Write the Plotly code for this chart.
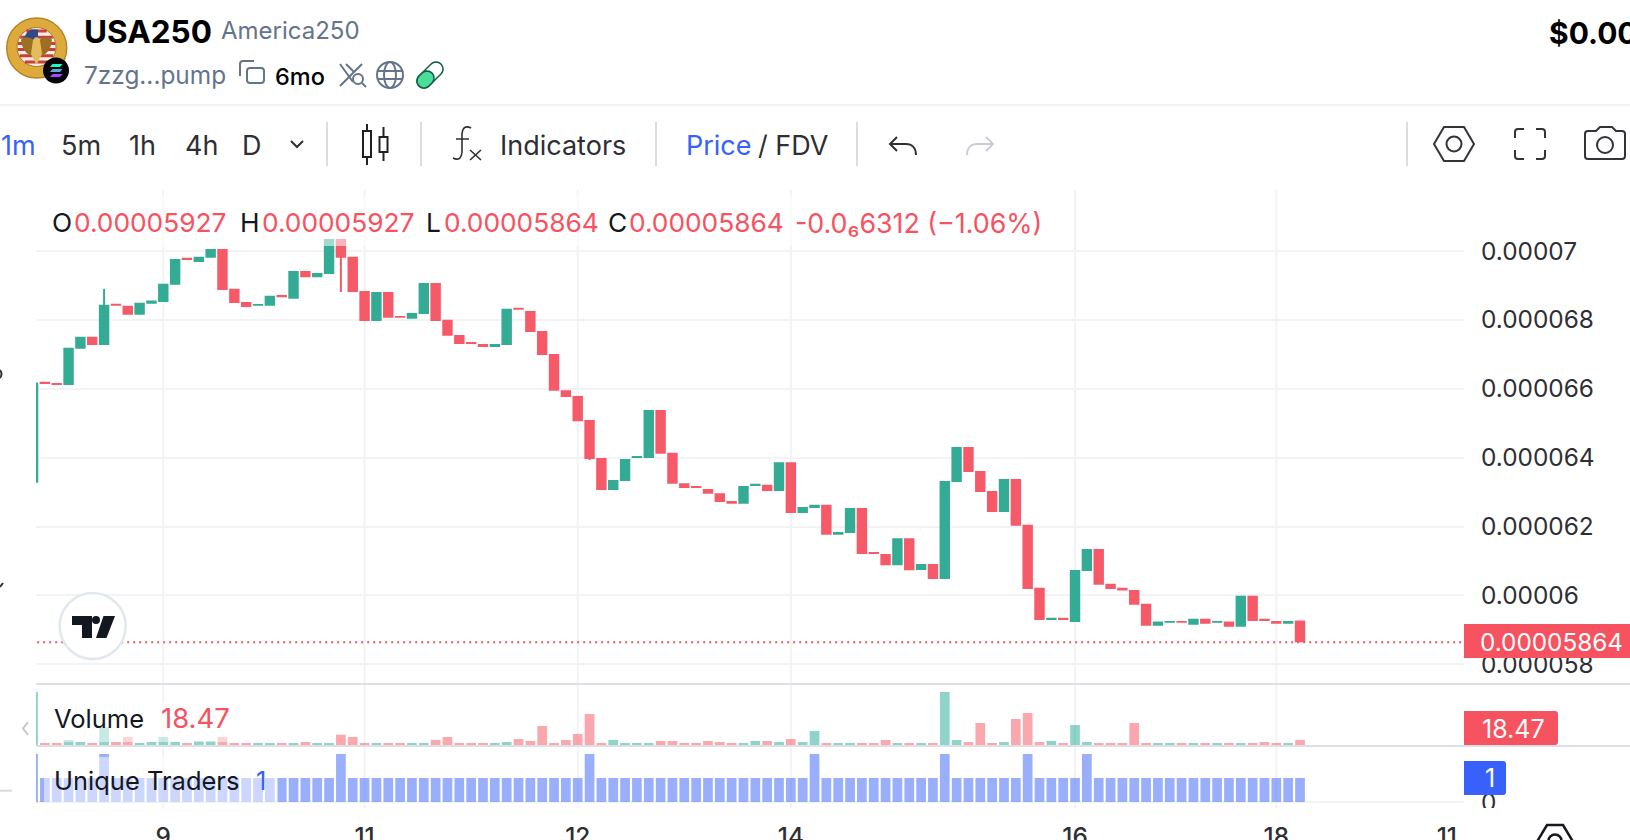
import math
import plotly.graph_objects as go

W, H = 1630, 840
FONT = "Inter"
UP, DOWN = "#33AB95", "#F65968"
VOL_UP, VOL_DOWN = "#22AB94", "#F7525F"
BLUE = "#3861FB"
SLATE = "#64748B"
DARK = "#2E2F34"
INK = "#131722"
GRID = "#F3F3F5"
DIVIDER = "#DFDFE6"

# price in millionths
opens = [63.27,66.20,66.17,66.11,67.16,67.51,67.27,68.47,68.41,68.15,68.47,68.52,69.02,69.80,69.68,69.80,70.06,68.90,68.52,68.41,
         68.41,68.72,68.61,69.42,69.24,69.33,70.35,69.83,68.84,67.97,68.81,68.11,68.03,68.17,69.07,68.00,67.56,67.36,67.30,67.21,
         67.27,68.35,68.26,67.68,67.01,65.96,65.79,65.09,63.99,63.06,63.32,63.99,63.99,65.38,64.14,63.26,63.18,63.09,62.97,62.74,
         62.66,63.18,63.21,63.03,63.87,62.39,62.54,62.63,61.76,61.81,62.54,61.26,61.20,60.88,61.66,60.74,60.91,60.48,63.29,64.31,
         63.61,63.03,62.42,63.38,62.05,60.22,59.29,59.35,59.23,60.71,61.35,60.34,60.22,60.16,59.76,59.12,59.21,59.26,59.15,59.32,
         59.21,59.24,59.09,59.99,59.32,59.26,59.18,59.27]
closes = [66.18,66.14,66.11,67.19,67.51,67.27,68.44,68.41,68.15,68.50,68.56,69.05,69.77,69.74,69.83,70.06,68.87,68.49,68.37,68.46,
          68.70,68.66,69.42,69.24,69.36,70.35,69.80,68.81,67.97,68.81,68.06,68.06,68.20,69.07,67.97,67.54,67.30,67.30,67.21,67.30,
          68.32,68.29,67.65,66.98,65.94,65.76,65.06,63.96,63.06,63.35,63.96,64.05,65.38,64.11,63.24,63.12,63.12,62.95,62.71,62.66,
          63.18,63.24,63.03,63.87,62.39,62.57,62.63,61.76,61.84,62.54,61.20,61.20,60.88,61.66,60.73,60.91,60.48,63.32,64.31,63.58,
          63.00,62.42,63.38,62.02,60.19,59.29,59.35,59.29,60.74,61.35,60.31,60.19,60.14,59.73,59.12,59.24,59.26,59.21,59.32,59.18,
          59.26,59.09,59.99,59.26,59.26,59.18,59.26,58.64]
wick_highs = {6: 68.90}
wick_lows = {26: 68.81, 47: 63.93}
volumes = [195.8,7.4,7.4,18.47,11.1,7.4,65.3,11.1,29.6,7.4,11.1,29.6,11.1,7.4,14.8,14.8,29.6,7.4,7.4,7.4,
           7.4,7.4,7.4,11.1,7.4,7.4,38.2,29.6,7.4,7.4,7.4,7.4,7.4,7.4,18.47,29.6,7.4,7.4,7.4,7.4,
           11.1,22.2,14.8,70.2,7.4,18.47,40.6,114.5,7.4,18.47,7.4,7.4,7.4,14.8,14.8,7.4,7.4,14.8,11.1,7.4,
           7.4,14.8,14.8,11.1,22.2,11.1,51.7,7.4,7.4,7.4,7.4,7.4,18.47,7.4,7.4,7.4,7.4,195.8,18.47,11.1,
           81.3,7.4,11.1,96.0,118.2,11.1,14.8,7.4,73.9,11.1,7.4,7.4,7.4,81.3,7.4,7.4,7.4,7.4,7.4,7.4,
           7.4,7.4,7.4,7.4,11.1,7.4,7.4,18.47]
trader_peaks = [0, 6, 26, 47, 66, 77, 84, 89]
grid_ticks = [11, 28, 46, 64, 88, 105]
date_ticks = [11, 28, 46, 64, 88, 105, 119.4]
date_labels = ["9", "11", "12", "14", "16", "18", "11"]
price_ticks = [58, 60, 62, 64, 66, 68, 70]
price_labels = ["0.000058", "0.00006", "0.000062", "0.000064", "0.000066", "0.000068", "0.00007"]
last_price = 58.64

n = len(opens)
idx = list(range(n))
U = 1e-6
highs = [wick_highs.get(i, max(opens[i], closes[i])) * U for i in idx]
lows = [wick_lows.get(i, min(opens[i], closes[i])) * U for i in idx]
traders = [2 if i in trader_peaks else 1 for i in idx]
is_up = [closes[i] >= opens[i] for i in idx]


def px(x): return x / W
def py(y): return 1 - y / H


shapes, annos = [], []


def rect(x0, y0, x1, y1, fill, layer="above", line=None, opacity=None, lw=0):
    s = dict(type="rect", xref="paper", yref="paper", x0=px(x0), y0=py(y0), x1=px(x1), y1=py(y1),
             fillcolor=fill, layer=layer, line=dict(width=lw, color=line or "rgba(0,0,0,0)"))
    if opacity is not None:
        s["opacity"] = opacity
    shapes.append(s)


def seg(x0, y0, x1, y1, color, w=2, dash=None, layer="above"):
    shapes.append(dict(type="line", xref="paper", yref="paper", x0=px(x0), y0=py(y0), x1=px(x1), y1=py(y1),
                       layer=layer, line=dict(color=color, width=w, dash=dash or "solid")))


def circle(cx, cy, r, fill="rgba(0,0,0,0)", line=None, lw=2):
    shapes.append(dict(type="circle", xref="paper", yref="paper", x0=px(cx - r), x1=px(cx + r), y0=py(cy - r), y1=py(cy + r),
                       fillcolor=fill, layer="above", line=dict(color=line or "rgba(0,0,0,0)", width=lw if line else 0)))


def ellipse(cx, cy, rx, ry, fill="rgba(0,0,0,0)", line=None, lw=2):
    shapes.append(dict(type="circle", xref="paper", yref="paper", x0=px(cx - rx), x1=px(cx + rx), y0=py(cy - ry), y1=py(cy + ry),
                       fillcolor=fill, layer="above", line=dict(color=line or "rgba(0,0,0,0)", width=lw if line else 0)))


def path(tokens, line=None, lw=2, fill="rgba(0,0,0,0)"):
    """tokens: list like ['M',x,y,'L',x,y,'C',x,y,x,y,x,y,'Z'] in pixels"""
    out, is_x = [], True
    for t in tokens:
        if isinstance(t, str):
            out.append(t)
            is_x = True
        else:
            out.append(f"{px(t):.5f}" if is_x else f"{py(t):.5f}")
            is_x = not is_x
    shapes.append(dict(type="path", xref="paper", yref="paper", path=" ".join(out), fillcolor=fill, layer="above",
                       line=dict(color=line or "rgba(0,0,0,0)", width=lw if line else 0)))


def text(x, y, s, size=27, color=DARK, weight=400, anchor="left", family=FONT):
    annos.append(dict(xref="paper", yref="paper", x=px(x), y=py(y), text=s, showarrow=False, xanchor=anchor, yanchor="middle",
                      borderpad=0, borderwidth=0, font=dict(family=family, size=size, color=color, weight=weight)))


# ---- grid verticals ----
for t in grid_ticks:
    shapes.append(dict(type="line", xref="x", yref="paper", x0=t, x1=t, y0=py(808), y1=py(190), layer="below",
                       line=dict(color=GRID, width=2)))

# ---- header & toolbar chrome ----
seg(0, 105, W, 105, "#F0F0F5", 2)
for x in (327, 421, 656, 857, 1407):
    seg(x, 122, x, 166, "#DCDCE0", 2)

# token logo
circle(36.7, 48, 30, "#DDAA3C", "#B98429", 1.5)
circle(36.5, 47, 19.5, "#F4EEE6", "#A8782A", 1)
cx, cy, r0 = 36.5, 47, 19
for k in range(6):
    y0 = 29.5 + k * 6.2
    dy = abs(y0 + 1.5 - cy)
    hw = math.sqrt(max(r0 * r0 - dy * dy, 0))
    rect(cx - hw, y0, cx + hw, y0 + 3, "#C8403A")
path(["M", 23, 41, "Q", 25, 33, 31, 29.5, "L", 38, 29.5, "L", 38, 41, "Z"], fill="#2F4A86")
# eagle
path(["M", 36.5, 42, "C", 30, 36, 24, 36, 21, 40, "C", 22, 50, 27, 55, 33, 56, "Z"], fill="#9C6F22")
path(["M", 36.5, 42, "C", 43, 36, 49, 36, 52, 40, "C", 51, 50, 46, 55, 40, 56, "Z"], fill="#9C6F22")
path(["M", 33, 40, "Q", 36.5, 34, 40, 40, "L", 42, 54, "L", 36.5, 65, "L", 31, 54, "Z"], fill="#E5BC5C")
# solana badge
circle(56, 70.5, 13, "#05060A")
for k, c in enumerate(("#19FBC0", "#5FA8E6", "#A24CFF")):
    path(["M", 52.5, 64 + k * 5, "L", 62.5, 64 + k * 5, "L", 60, 67 + k * 5, "L", 50, 67 + k * 5, "Z"], fill=c)

text(84, 32, "USA250", 31.5, "#000000", 700)
text(221, 31, "America250", 24, SLATE)
text(84, 75, "7zzg...pump", 24.4, SLATE)
text(275, 76, "6mo", 23.5, "#000000", 500)
text(1549, 33, "$0.00", 30, "#000000", 700)

# copy icon
path(["M", 254, 61, "L", 243, 61, "Q", 240, 61, 240, 64, "L", 240, 76], SLATE)
path(["M", 250, 68, "L", 261, 68, "Q", 264, 68, 264, 71, "L", 264, 80, "Q", 264, 83, 261, 83, "L", 250, 83,
      "Q", 247, 83, 247, 80, "L", 247, 71, "Q", 247, 68, 250, 68, "Z"], SLATE)
# x-search icon
path(["M", 340, 64, "L", 353, 82, "M", 346, 64, "L", 354, 72, "M", 362, 64, "L", 340, 86], SLATE)
circle(358, 79, 5, line=SLATE)
seg(362, 83, 366, 87, SLATE)
# globe icon
circle(390, 75, 13, line=SLATE)
ellipse(390, 75, 6, 13, line=SLATE)
seg(378, 71, 402, 71, SLATE)
seg(378, 79, 402, 79, SLATE)


# pill icon
def capsule(x1, y1, x2, y2, r, half=None):
    ang = math.atan2(y2 - y1, x2 - x1)
    pts = []
    for t in range(0, 13):
        a = ang + math.pi / 2 + math.pi * t / 12
        pts.append((x1 + r * math.cos(a), y1 + r * math.sin(a)))
    for t in range(0, 13):
        a = ang - math.pi / 2 + math.pi * t / 12
        pts.append((x2 + r * math.cos(a), y2 + r * math.sin(a)))
    return pts


pts = capsule(424, 81, 436, 69, 7)
toks = []
for i, (a, b) in enumerate(pts):
    toks += ["M" if i == 0 else "L", a, b]
path(toks + ["Z"], "#0F5F44", 1.5, "#FFFFFF")
pts = capsule(424, 81, 427, 78, 7)
toks = []
for i, (a, b) in enumerate(pts):
    toks += ["M" if i == 0 else "L", a, b]
path(toks + ["Z"], "#0F5F44", 1.5, "#4ADE9A")

text(1, 145, "1m", 27, BLUE)
text(61, 145, "5m", 27)
text(129, 145, "1h", 27)
text(185, 145, "4h", 27)
text(242, 145, "D", 27)
path(["M", 291, 141, "L", 297, 147, "L", 303, 141], DARK)
# candle icon
seg(367, 124, 367, 165, "#222222")
rect(363, 131, 371, 157, "#FFFFFF", line="#222222", lw=2)
seg(383.5, 127, 383.5, 161, "#222222")
rect(379.5, 137, 387.5, 152, "#FFFFFF", line="#222222", lw=2)
# fx icon
path(["M", 471, 128, "Q", 463, 124, 462, 134, "L", 462, 152, "Q", 461, 162, 453, 158, "M", 456, 139, "L", 469, 139], DARK, 1.6)
path(["M", 470, 150, "L", 481, 160, "M", 481, 150, "L", 470, 160], DARK, 1.6)
text(500, 145, "Indicators", 27)
text(686, 145, "Price", 27, BLUE)
text(758, 145, "/ FDV", 27)
# undo / redo
path(["M", 897, 137, "L", 890, 144, "L", 897, 151, "M", 890, 144, "L", 906, 144, "C", 912, 144, 916, 148, 916, 155], DARK)
path(["M", 986, 137, "L", 993, 144, "L", 986, 151, "M", 993, 144, "L", 977, 144, "C", 971, 144, 967, 148, 967, 155], "#C9CDD6")
# settings hexagon
path(["M", 1434, 144, "L", 1444, 127, "L", 1464, 127, "L", 1474, 144, "L", 1464, 161, "L", 1444, 161, "Z"], "#333339")
circle(1454, 144, 7.5, line="#333339")
# fullscreen
path(["M", 1515, 138, "L", 1515, 132, "Q", 1515, 129, 1518, 129, "L", 1524, 129], "#333339")
path(["M", 1536, 129, "L", 1542, 129, "Q", 1545, 129, 1545, 132, "L", 1545, 138], "#333339")
path(["M", 1515, 150, "L", 1515, 156, "Q", 1515, 159, 1518, 159, "L", 1524, 159], "#333339")
path(["M", 1536, 159, "L", 1542, 159, "Q", 1545, 159, 1545, 156, "L", 1545, 150], "#333339")
# camera
path(["M", 1588, 131, "L", 1596, 131, "L", 1600, 127, "L", 1612, 127, "L", 1616, 131, "L", 1622, 131, "Q", 1625, 131, 1625, 134,
      "L", 1625, 156, "Q", 1625, 159, 1622, 159, "L", 1588, 159, "Q", 1585, 159, 1585, 156, "L", 1585, 134, "Q", 1585, 131, 1588, 131, "Z"], "#333339")
circle(1605, 145, 8, line="#333339")

# ---- price line, overlays ----
shapes.append(dict(type="line", xref="x", yref="y", x0=0.35, x1=120.85, y0=last_price * U, y1=last_price * U, layer="above",
                   line=dict(color="#F7525F", width=2, dash="2px,4px")))
rect(44, 196, 1046, 246, "#FFFFFF", opacity=0.55)
rect(44, 702, 232, 742, "#FFFFFF", opacity=0.5)
rect(44, 757, 278, 802, "#FFFFFF", opacity=0.5)

seg(36, 684, W, 684, DIVIDER, 2)
seg(36, 746, W, 746, DIVIDER, 2)

# watermark
circle(92.7, 626, 33, "#FFFFFF", "#E2E6EF", 2.5)
path(["M", 72, 616, "L", 92, 616, "L", 92, 638, "L", 82, 638, "L", 82, 625, "L", 72, 625, "Z"], fill="#131722")
circle(96, 620, 4, "#131722")
path(["M", 103.5, 616, "L", 115, 616, "L", 106.5, 638, "L", 96, 638, "Z"], fill="#131722")

# value boxes
rect(1464, 624, W, 658, "#F7525F")
text(1480, 642, f"0.0000{int(last_price * 100)}", 24.3, "#FFFFFF")
path(["M", 1464, 711, "L", 1555, 711, "Q", 1558, 711, 1558, 714, "L", 1558, 742, "Q", 1558, 745, 1555, 745, "L", 1464, 745, "Z"], fill="#F7525F")
text(1482, 729, f"{volumes[-1]:.2f}", 25, "#FFFFFF")
path(["M", 1464, 761, "L", 1503, 761, "Q", 1506, 761, 1506, 764, "L", 1506, 792, "Q", 1506, 795, 1503, 795, "L", 1464, 795, "Z"], fill=BLUE)
text(1485, 778, str(traders[-1]), 25, "#FFFFFF")
# bottom of the pane clips the zero label
rect(1470, 808, 1520, 824, "#FFFFFF")

# legends
for lbl, val, x0, x1 in (("O", opens[-1], 52, 74), ("H", opens[-1], 240, 262), ("L", closes[-1], 426, 444), ("C", closes[-1], 608, 629)):
    text(x0, 223, lbl, 26.3, INK)
    text(x1, 223, f"0.0000{round(val * 100)}", 26.3, "#F7525F")
text(795, 223, "-0.0₆6312 (−1.06%)", 26.8, "#F7525F")
text(54, 718, "Volume", 25.5, INK)
text(161, 718, f"{volumes[-1]:.2f}", 27.5, "#F7525F")
text(54, 780, "Unique Traders", 25.5, INK)
text(256, 780, str(traders[-1]), 25.5, BLUE)

# edge fragments
path(["M", 28, 722, "L", 23, 728.5, "L", 28, 735], "#C8C8CC")
seg(0, 790.7, 12, 790.7, "#D8D8DC")
path(["M", 0, 370, "Q", 3, 374, 0, 378], "#333339")
path(["M", 0, 587, "L", 3, 583], "#333339")

# bottom right icon
path(["M", 1535, 845, "L", 1547, 825, "L", 1563, 825, "L", 1575, 845, "L", 1563, 865, "L", 1547, 865, "Z"], "#17181F", 2.5)
circle(1555, 841, 6.5, line="#17181F", lw=2.5)

fig = go.Figure()
fig.add_trace(go.Candlestick(x=idx, open=[v * U for v in opens], high=highs, low=lows, close=[v * U for v in closes],
                             xaxis="x", yaxis="y", whiskerwidth=0,
                             increasing=dict(line=dict(color=UP, width=0), fillcolor=UP),
                             decreasing=dict(line=dict(color=DOWN, width=0), fillcolor=DOWN),
                             hoverinfo="skip"))
for col, flag in ((UP, True), (DOWN, False)):
    wx, wy = [], []
    for i in idx:
        if is_up[i] == flag and (highs[i] > max(opens[i], closes[i]) * U or lows[i] < min(opens[i], closes[i]) * U):
            wx += [i, i, None]
            wy += [lows[i], highs[i], None]
    fig.add_trace(go.Scatter(x=wx, y=wy, mode="lines", line=dict(color=col, width=2), xaxis="x", yaxis="y", hoverinfo="skip"))
fig.add_trace(go.Bar(x=idx, y=volumes, xaxis="x", yaxis="y2", opacity=0.5, hoverinfo="skip",
                     marker=dict(color=[VOL_UP if u else VOL_DOWN for u in is_up], line=dict(width=0))))
fig.add_trace(go.Bar(x=idx, y=traders, xaxis="x", yaxis="y3", opacity=0.5, hoverinfo="skip",
                     marker=dict(color=BLUE, line=dict(width=0))))

tick_font = dict(family=FONT, size=24.4, color=DARK)
fig.update_layout(
    width=W, height=H, margin=dict(l=0, r=0, t=0, b=0, autoexpand=False), autosize=False, showlegend=False,
    paper_bgcolor="#FFFFFF", plot_bgcolor="rgba(0,0,0,0)", font=dict(family=FONT, color=DARK),
    bargap=0.18, boxgap=0.12, boxgroupgap=0, hovermode=False,
    shapes=shapes, annotations=annos,
    xaxis=dict(domain=[px(36), px(1464)], range=[0.25, 120.85], anchor="y3", rangeslider=dict(visible=False),
               tickmode="array", tickvals=date_ticks, ticktext=date_labels, showgrid=False,
               zeroline=False, showline=False, ticks="", tickfont=dict(family=FONT, size=24.4, color=DARK, weight=500),
               ticklabelstandoff=12),
    yaxis=dict(domain=[py(685), py(190)], range=[57.40 * U, 71.77 * U], side="right", anchor="x",
               tickmode="array", tickvals=[v * U for v in price_ticks], ticktext=price_labels, tickfont=tick_font,
               showgrid=True, gridcolor=GRID, gridwidth=2, zeroline=False, showline=False, ticks="", ticklabelstandoff=16),
    yaxis2=dict(domain=[py(745), py(686)], range=[0, 218], side="right", anchor="x", showticklabels=False, showgrid=False,
                zeroline=False, showline=False, ticks=""),
    yaxis3=dict(domain=[py(808), py(747)], range=[-0.25, 2.29], side="right", anchor="x", tickmode="array", tickvals=[0], ticktext=["0"],
                tickfont=tick_font, showgrid=True, gridcolor=GRID, gridwidth=2, zeroline=False, showline=False, ticks="", ticklabelstandoff=16),
)

fig.write_html("out.html", config=dict(displayModeBar=False), post_script="document.body.style.margin='0';")
